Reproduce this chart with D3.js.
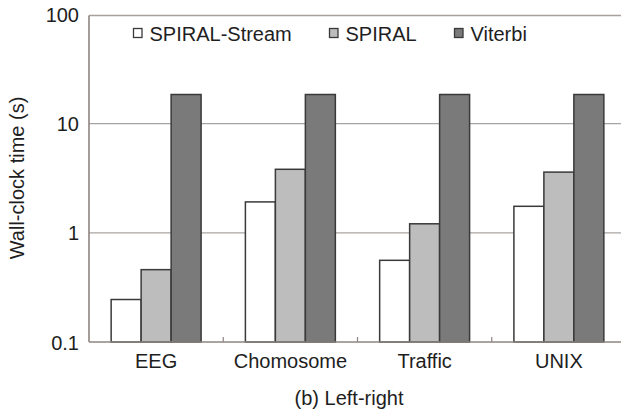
<!DOCTYPE html>
<html>
<head>
<meta charset="utf-8">
<script src="https://cdn.jsdelivr.net/npm/d3@7"></script>
<style>
  html, body { margin: 0; padding: 0; background: #fff; }
  svg { display: block; font-family: "Liberation Sans", Arial, sans-serif; }
</style>
</head>
<body>
<svg id="chart" width="621" height="416"></svg>
<script>
// Wall-clock time per dataset (seconds, log scale)
const categories = ["EEG", "Chomosome", "Traffic", "UNIX"];
const seriesNames = ["SPIRAL-Stream", "SPIRAL", "Viterbi"];
const spiralStream = [0.245, 1.92, 0.56, 1.75];
const spiral = [0.46, 3.82, 1.21, 3.6];
const viterbi = [18.5, 18.5, 18.5, 18.5];
const yTicks = [0.1, 1, 10, 100];
const yTickLabels = ["0.1", "1", "10", "100"];
const yTitle = "Wall-clock time (s)";
const caption = "(b) Left-right";

const seriesValues = [spiralStream, spiral, viterbi];
const fills = ["#ffffff", "#bdbdbd", "#7a7a7a"];
const fontSize = 20;
const textColor = "#1e1e1e";

const svg = d3.select("#chart");
const plotLeft = 89, plotRight = 626, plotTop = 14.5, plotBottom = 342;

const x0 = d3.scaleBand().domain(categories).range([plotLeft, plotRight])
  .paddingInner(0.33).paddingOuter(0.165);
const x1 = d3.scaleBand().domain(seriesNames).range([0, x0.bandwidth()]);
const y = d3.scaleLog().domain([0.1, 100]).range([plotBottom, plotTop]);

// gridlines
svg.append("g").selectAll("line").data(yTicks.slice(1, 3)).join("line")
  .attr("x1", plotLeft).attr("x2", 621)
  .attr("y1", d => y(d)).attr("y2", d => y(d))
  .attr("stroke", "#a8a4a2").attr("stroke-width", 1.2);

// top border
svg.append("line").attr("x1", plotLeft).attr("x2", 621)
  .attr("y1", y(100) + 1).attr("y2", y(100) + 1)
  .attr("stroke", "#a8a09c").attr("stroke-width", 1.6);

// bars
const groups = svg.append("g").selectAll("g").data(categories).join("g")
  .attr("transform", d => `translate(${x0(d)},0)`);
groups.selectAll("rect")
  .data((c, i) => seriesNames.map((s, k) => ({ s, k, v: seriesValues[k][i] })))
  .join("rect")
  .attr("x", d => x1(d.s))
  .attr("width", x1.bandwidth())
  .attr("y", d => y(d.v))
  .attr("height", d => y(0.1) - y(d.v))
  .attr("fill", d => fills[d.k])
  .attr("stroke", "#3a3a3a").attr("stroke-width", 1.5);

// y axis
const yAxis = d3.axisLeft(y).tickValues(yTicks).tickSize(0).tickPadding(10)
  .tickFormat((d, i) => yTickLabels[i]);
const gy = svg.append("g").attr("transform", `translate(${plotLeft},0)`).call(yAxis);
gy.select(".domain").attr("stroke", "#8e8480").attr("stroke-width", 1.6)
  .attr("d", `M0,${y(100) + 1}V${plotBottom}`);
gy.selectAll(".tick text")
  .attr("dy", null).attr("y", 7)
  .attr("font-family", null).attr("font-size", fontSize)
  .attr("fill", textColor);

// x axis with tick marks between groups
const xAxis = d3.axisBottom(x0).tickSize(0).tickPadding(0);
const gx = svg.append("g").attr("transform", `translate(0,${plotBottom})`).call(xAxis);
gx.select(".domain").attr("stroke", "#8e8480").attr("stroke-width", 1.6)
  .attr("d", `M${plotLeft},0H621`);
gx.selectAll(".tick text")
  .attr("dy", null).attr("y", 26)
  .attr("font-family", null).attr("font-size", fontSize)
  .attr("fill", textColor);
gx.append("g").selectAll("line").data(categories.slice(1)).join("line")
  .attr("x1", d => x0(d) - x0.step() * x0.paddingInner() / 2)
  .attr("x2", d => x0(d) - x0.step() * x0.paddingInner() / 2)
  .attr("y1", 0).attr("y2", -5)
  .attr("stroke", "#8e8480").attr("stroke-width", 1.2);

// y title
svg.append("text")
  .attr("transform", "translate(24,178) rotate(-90)")
  .attr("text-anchor", "middle")
  .attr("fill", textColor).attr("font-size", fontSize)
  .text(yTitle);

// caption
svg.append("text")
  .attr("x", 349).attr("y", 405)
  .attr("text-anchor", "middle")
  .attr("fill", textColor).attr("font-size", fontSize)
  .text(caption);

// legend
const legendX = [133.5, 329.5, 454.5];
const legend = svg.append("g").selectAll("g").data(seriesNames).join("g")
  .attr("transform", (d, i) => `translate(${legendX[i]},28.5)`);
legend.append("rect").attr("width", 8.5).attr("height", 9)
  .attr("fill", (d, i) => fills[i])
  .attr("stroke", "#3a3a3a").attr("stroke-width", 1.3);
legend.append("text")
  .attr("x", 16).attr("y", 12.5)
  .attr("fill", textColor).attr("font-size", fontSize)
  .text(d => d);
</script>
</body>
</html>
